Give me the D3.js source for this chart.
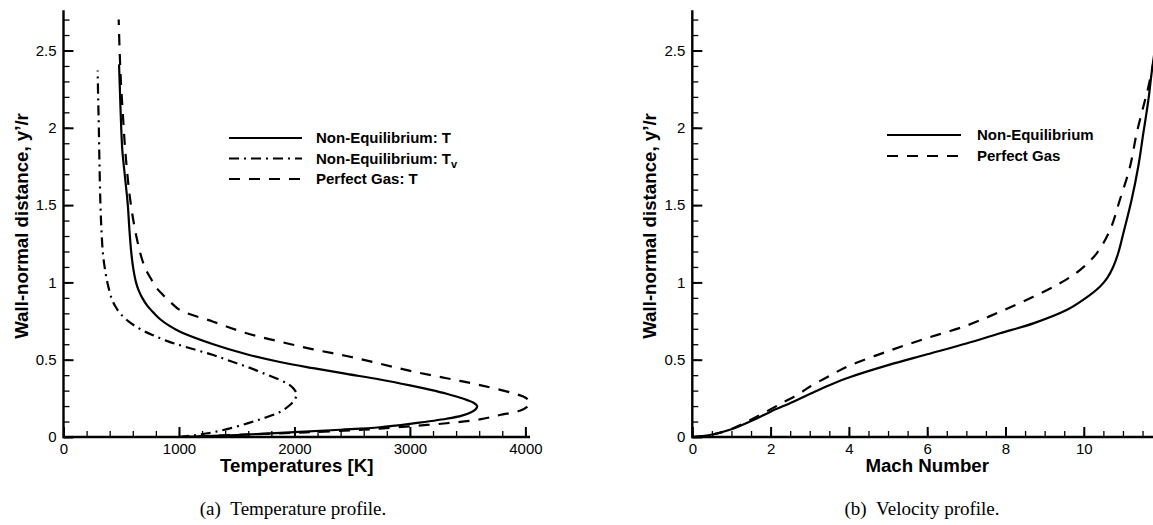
<!DOCTYPE html>
<html>
<head>
<meta charset="utf-8">
<script src="https://cdn.jsdelivr.net/npm/d3@7"></script>
<style>
  html, body { margin: 0; padding: 0; background: #fff; }
  svg { display: block; }
  .tick text { font-family: "Liberation Sans", Arial, sans-serif; font-size: 15px; fill: #000; }
  .title { font-family: "Liberation Sans", Arial, sans-serif; font-weight: bold; font-size: 18.7px; fill: #000; }
  .legend { font-family: "Liberation Sans", Arial, sans-serif; font-weight: bold; font-size: 15px; fill: #000; }
  .caption { font-family: "Liberation Serif", "Times New Roman", serif; font-size: 19px; fill: #000; }
</style>
</head>
<body>
<svg id="fig" width="1153" height="525"></svg>
<script>
// ---- Panel (a): temperature profiles, y'/r vs T [K] ----
const neqT_y = [0, 0.013, 0.031, 0.047, 0.063, 0.088, 0.118, 0.138, 0.16, 0.18, 0.2, 0.22, 0.24, 0.26, 0.28, 0.305, 0.334, 0.372, 0.408, 0.445, 0.485, 0.535, 0.6, 0.681, 0.72, 0.76, 0.8, 0.85, 0.9, 0.95, 1.0, 1.1, 1.2, 1.35, 1.5, 1.7, 1.86, 2.1, 2.3, 2.41];
const neqT_T = [1000, 1500, 2000, 2400, 2740, 3029, 3318, 3450, 3530, 3570, 3583, 3555, 3491, 3410, 3318, 3180, 3000, 2740, 2452, 2163, 1874, 1586, 1297, 1009, 915, 840, 785, 725, 682, 650, 628, 602, 586, 570, 557, 530, 509, 495, 486, 481];

const neqTv_y = [0, 0.013, 0.03, 0.056, 0.09, 0.121, 0.16, 0.207, 0.24, 0.276, 0.315, 0.345, 0.369, 0.41, 0.455, 0.49, 0.53, 0.584, 0.62, 0.66, 0.7, 0.75, 0.8, 0.85, 0.9, 1.0, 1.1, 1.2, 1.35, 1.5, 1.75, 2.0, 2.2, 2.37];
const neqTv_T = [1000, 1153, 1290, 1442, 1600, 1730, 1870, 1961, 2000, 2019, 1990, 1940, 1874, 1740, 1586, 1450, 1297, 1052, 900, 770, 660, 560, 490, 445, 415, 380, 356, 340, 328, 320, 312, 306, 300, 296];

const pgT_y = [0, 0.015, 0.03, 0.045, 0.054, 0.071, 0.089, 0.114, 0.142, 0.17, 0.195, 0.218, 0.25, 0.283, 0.336, 0.38, 0.423, 0.474, 0.524, 0.567, 0.617, 0.671, 0.746, 0.821, 0.87, 0.92, 0.97, 1.02, 1.08, 1.15, 1.25, 1.4, 1.55, 1.7, 1.9, 2.1, 2.3, 2.5, 2.7];
const pgT_T = [1000, 1550, 2100, 2550, 2740, 3029, 3318, 3606, 3779, 3952, 4015, 4039, 4010, 3895, 3606, 3318, 3029, 2740, 2452, 2163, 1874, 1586, 1297, 1009, 930, 860, 800, 760, 715, 680, 645, 605, 575, 553, 530, 513, 497, 486, 478];

// ---- Panel (b): velocity profiles, y'/r vs Mach number ----
const neqM_M = [0, 0.45, 1.0, 1.56, 2.0, 2.58, 3.0, 3.5, 4.0, 5.0, 6.0, 7.0, 7.86, 8.71, 9.56, 10.0, 10.41, 10.6, 10.75, 10.88, 11.01, 11.22, 11.39, 11.52, 11.65, 11.73, 11.8];
const neqM_y = [0, 0.013, 0.05, 0.11, 0.164, 0.228, 0.278, 0.335, 0.385, 0.465, 0.535, 0.605, 0.671, 0.735, 0.821, 0.89, 0.972, 1.03, 1.10, 1.19, 1.318, 1.533, 1.748, 1.964, 2.18, 2.35, 2.48];

const pgM_M = [0, 0.45, 1.0, 1.56, 2.2, 2.75, 3.0, 3.5, 4.0, 5.0, 6.0, 7.0, 7.86, 8.71, 9.39, 9.9, 10.33, 10.67, 10.92, 11.18, 11.35, 11.52, 11.65, 11.8];
const pgM_y = [0, 0.013, 0.052, 0.12, 0.207, 0.283, 0.325, 0.395, 0.46, 0.555, 0.64, 0.72, 0.81, 0.907, 0.994, 1.08, 1.188, 1.339, 1.533, 1.748, 1.964, 2.136, 2.266, 2.45];

// ---- Axis ticks and labels ----
const yMajor = [0, 0.5, 1, 1.5, 2, 2.5];
const yMinor = d3.range(0, 2.71, 0.1);
const tMajor = [0, 1000, 2000, 3000, 4000];
const tMinor = d3.range(0, 4001, 200);
const mMajor = [0, 2, 4, 6, 8, 10];
const mMinor = d3.range(0, 12.01, 0.5);

const legendA = ["Non-Equilibrium: T", "Non-Equilibrium: T", "Perfect Gas: T"];
const legendB = ["Non-Equilibrium", "Perfect Gas"];
const titles = { xA: "Temperatures [K]", xB: "Mach Number", y: "Wall-normal distance, y\u2019/r" };
const captions = ["(a)\u2002Temperature profile.", "(b)\u2002Velocity profile."];

const DASH = "11,9";
const DASHDOT = "10,5,2,5";

const svg = d3.select("#fig");

function zip(xs, ys) { return xs.map((x, i) => [x, ys[i]]); }

function panel(opts) {
  const g = svg.append("g");
  const x = d3.scaleLinear().domain(opts.xDomain).range(opts.xRange);
  const y = d3.scaleLinear().domain([0, 2.76]).range([437, 10.3]);

  // minor ticks
  g.append("g").attr("transform", "translate(0,437)")
    .call(d3.axisBottom(x).tickValues(opts.xMinor).tickSize(-6).tickSizeOuter(0).tickFormat(""))
    .call(s => s.select(".domain").remove())
    .call(s => s.selectAll("line").attr("stroke-width", 1.3));
  g.append("g").attr("transform", `translate(${opts.xRange[0]},0)`)
    .call(d3.axisLeft(y).tickValues(yMinor).tickSize(-6).tickSizeOuter(0).tickFormat(""))
    .call(s => s.select(".domain").remove())
    .call(s => s.selectAll("line").attr("stroke-width", 1.3));

  // major ticks with labels
  g.append("g").attr("transform", "translate(0,437)")
    .call(d3.axisBottom(x).tickValues(opts.xMajor).tickSize(-10).tickSizeOuter(0).tickPadding(6).tickFormat(d3.format("~g")))
    .call(s => s.select(".domain").remove())
    .call(s => s.selectAll("line").attr("stroke-width", 2));
  g.append("g").attr("transform", `translate(${opts.xRange[0]},0)`)
    .call(d3.axisLeft(y).tickValues(yMajor).tickSize(-10).tickSizeOuter(0).tickPadding(7).tickFormat(d3.format("~g")))
    .call(s => s.select(".domain").remove())
    .call(s => s.selectAll("line").attr("stroke-width", 2));

  // axis lines
  g.append("path")
    .attr("d", `M${opts.xRange[0]},${y(2.76)}V437H${opts.xRange[1]}`)
    .attr("fill", "none").attr("stroke", "#000").attr("stroke-width", 2.4);

  // curves
  opts.series.forEach(s => {
    const line = d3.line().x(d => x(d[0])).y(d => y(d[1])).curve(d3.curveCatmullRom.alpha(0.5));
    g.append("path").datum(s.data).attr("d", line)
      .attr("fill", "none").attr("stroke", "#000").attr("stroke-width", 2.2)
      .attr("stroke-linejoin", "round")
      .attr("stroke-dasharray", s.dash || null);
  });

  // titles
  const xMid = (opts.xRange[0] + opts.xRange[1]) / 2;
  g.append("text").attr("class", "title").attr("x", xMid).attr("y", 472)
    .attr("text-anchor", "middle").text(opts.xTitle);
  g.append("text").attr("class", "title").attr("text-anchor", "middle")
    .attr("transform", `translate(${opts.xRange[0] - 36},226) rotate(-90)`).text(titles.y);

  g.append("text").attr("class", "caption").attr("x", opts.captionX).attr("y", 515)
    .attr("text-anchor", "middle").text(opts.caption);

  // legend
  opts.legend.forEach((l, i) => {
    const yy = opts.legendY[i];
    g.append("line").attr("x1", opts.legendX[0]).attr("x2", opts.legendX[1])
      .attr("y1", yy).attr("y2", yy).attr("stroke", "#000").attr("stroke-width", 2.2)
      .attr("stroke-dasharray", l.dash || null);
    const t = g.append("text").attr("class", "legend").attr("x", opts.legendX[2]).attr("y", yy + 5.4).text(l.label);
    if (l.sub) t.append("tspan").attr("font-size", "11px").attr("dy", 4).text(l.sub);
  });
}

panel({
  xDomain: [0, 4040], xRange: [63.5, 530], xMajor: tMajor, xMinor: tMinor,
  xTitle: titles.xA, caption: captions[0], captionX: 293,
  series: [
    { data: zip(neqT_T, neqT_y) },
    { data: zip(neqTv_T, neqTv_y), dash: DASHDOT },
    { data: zip(pgT_T, pgT_y), dash: DASH }
  ],
  legendX: [229, 302, 316], legendY: [138, 158.5, 179],
  legend: [
    { label: legendA[0] },
    { label: legendA[1], sub: "v", dash: DASHDOT },
    { label: legendA[2], dash: DASH }
  ]
});

panel({
  xDomain: [0, 12], xRange: [692.3, 692.3 + 12 * 39.15], xMajor: mMajor, xMinor: mMinor,
  xTitle: titles.xB, caption: captions[1], captionX: 922,
  series: [
    { data: zip(neqM_M, neqM_y) },
    { data: zip(pgM_M, pgM_y), dash: DASH }
  ],
  legendX: [887, 961, 977], legendY: [135, 156],
  legend: [
    { label: legendB[0] },
    { label: legendB[1], dash: DASH }
  ]
});
</script>
</body>
</html>
